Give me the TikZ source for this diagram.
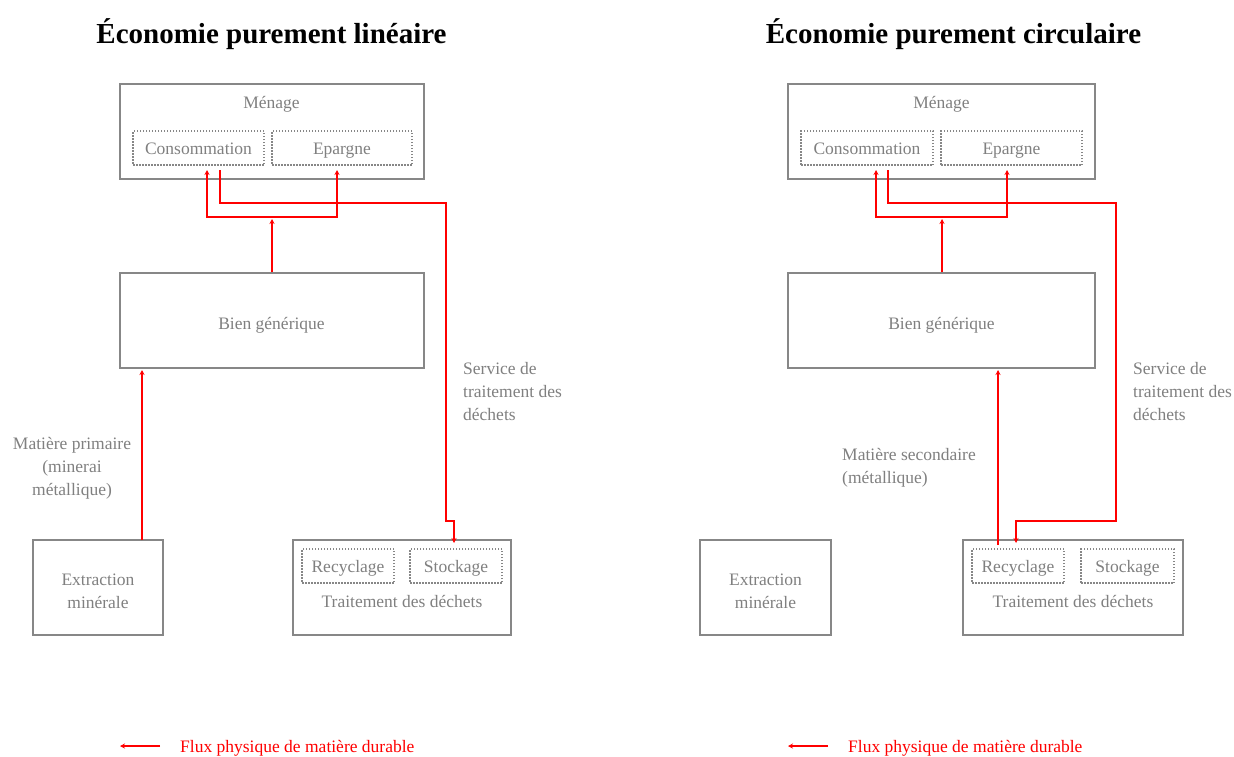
\documentclass[tikz,border=0pt]{standalone}
\usepackage{fontspec}
\setmainfont{Liberation Serif}
\usetikzlibrary{arrows.meta}
\definecolor{boxgray}{RGB}{135,135,135}
\definecolor{txtgray}{RGB}{128,128,128}
\begin{document}
\begin{tikzpicture}[x=1pt,y=-1pt,
  every node/.style={font=\fontsize{17.5}{23}\selectfont, text=txtgray},
  title/.style={font=\bfseries\fontsize{29}{34}\selectfont, text=black, yshift=-1.5pt},
  box/.style={draw=boxgray, line width=2pt, inner sep=0pt},
  subbox/.style={draw=boxgray, line width=1.5pt, dash pattern=on 1.5pt off 1.5pt,
    inner sep=0pt, minimum height=34pt, text height=14pt, text depth=1.5pt},
  lbl/.style={inner sep=0pt, yshift=-2pt},
  flow/.style={draw=red, line width=2pt, -{Stealth[length=5pt,width=5pt]}},
  redtxt/.style={text=red, inner sep=0pt, yshift=-2pt}]
\useasboundingbox (0,0) rectangle (1234,756);

% ---------- linear economy ----------
\node[title] (t1) at (271.5,33) {Économie purement linéaire};

\node[box, minimum width=304pt, minimum height=95pt] (men1) at (272,131.5) {};
\node[lbl] (men1t) at (271.5,102) {Ménage};
\node[subbox, minimum width=131pt] (cons1) at (198.5,148) {Consommation};
\node[subbox, minimum width=140pt] (epar1) at (342,148) {Epargne};

\node[box, minimum width=304pt, minimum height=95pt] (bien1) at (272,320.5) {};
\node[lbl] (bien1t) at (271.5,323) {Bien générique};

\node[box, minimum width=130pt, minimum height=95pt] (ext1) at (98,587.5) {};
\node[lbl, align=center] (ext1t) at (98,589.5) {Extraction\\minérale};

\node[box, minimum width=218pt, minimum height=95pt] (trt1) at (402,587.5) {};
\node[subbox, minimum width=92pt] (rec1) at (348,566) {Recyclage};
\node[subbox, minimum width=92pt] (sto1) at (456,566) {Stockage};
\node[lbl] (trt1t) at (402,599) {Traitement des déchets};

\node[lbl, align=center] (mp1) at (72,466) {Matière primaire\\(minerai\\métallique)};
\node[lbl, align=left, anchor=west] (sv1) at (463,390) {Service de\\traitement des\\déchets};

\coordinate (bus1) at (272,217);
\coordinate (bus1in) at (272,219);
\coordinate (c1in) at (207,170);
\coordinate (e1in) at (337,170);
\coordinate (c1out) at (220,170);
\coordinate (w1a) at (446,203);
\coordinate (w1b) at (454,521);
\coordinate (w1in) at (454,543);
\coordinate (x1out) at (142,540);
\coordinate (b1in) at (142,370);

\draw[flow] (bien1.north -| bus1) -- (bus1in);
\draw[flow] (bus1) -| (c1in);
\draw[flow] (bus1) -| (e1in);
\draw[flow] (c1out) |- (w1a) |- (w1b) -- (w1in);
\draw[flow] (x1out) -- (b1in);

\coordinate (lg1a) at (160,746);
\coordinate (lg1b) at (120,746);
\draw[flow] (lg1a) -- (lg1b);
\node[redtxt, anchor=west] (lg1t) at (180,746) {Flux physique de matière durable};

% ---------- circular economy ----------
\node[title] (t2) at (953.5,33) {Économie purement circulaire};

\node[box, minimum width=307pt, minimum height=95pt] (men2) at (941.5,131.5) {};
\node[lbl] (men2t) at (941.5,102) {Ménage};
\node[subbox, minimum width=132pt] (cons2) at (867,148) {Consommation};
\node[subbox, minimum width=141pt] (epar2) at (1011.5,148) {Epargne};

\node[box, minimum width=307pt, minimum height=95pt] (bien2) at (941.5,320.5) {};
\node[lbl] (bien2t) at (941.5,323) {Bien générique};

\node[box, minimum width=131pt, minimum height=95pt] (ext2) at (765.5,587.5) {};
\node[lbl, align=center] (ext2t) at (765.5,589.5) {Extraction\\minérale};

\node[box, minimum width=220pt, minimum height=95pt] (trt2) at (1073,587.5) {};
\node[subbox, minimum width=92pt] (rec2) at (1018,566) {Recyclage};
\node[subbox, minimum width=93pt] (sto2) at (1127.5,566) {Stockage};
\node[lbl] (trt2t) at (1073,599) {Traitement des déchets};

\node[lbl, align=left, anchor=west] (ms2) at (842,465.5) {Matière secondaire\\(métallique)};
\node[lbl, align=left, anchor=west] (sv2) at (1133,390) {Service de\\traitement des\\déchets};

\coordinate (bus2) at (942,217);
\coordinate (bus2in) at (942,219);
\coordinate (c2in) at (876,170);
\coordinate (e2in) at (1007,170);
\coordinate (c2out) at (888,170);
\coordinate (w2a) at (1116,203);
\coordinate (w2b) at (1016,521);
\coordinate (w2in) at (1016,543);
\coordinate (r2out) at (998,545);
\coordinate (b2in) at (998,370);

\draw[flow] (bien2.north -| bus2) -- (bus2in);
\draw[flow] (bus2) -| (c2in);
\draw[flow] (bus2) -| (e2in);
\draw[flow] (c2out) |- (w2a) |- (w2b) -- (w2in);
\draw[flow] (r2out) -- (b2in);

\coordinate (lg2a) at (828,746);
\coordinate (lg2b) at (788,746);
\draw[flow] (lg2a) -- (lg2b);
\node[redtxt, anchor=west] (lg2t) at (848,746) {Flux physique de matière durable};
\end{tikzpicture}
\end{document}
